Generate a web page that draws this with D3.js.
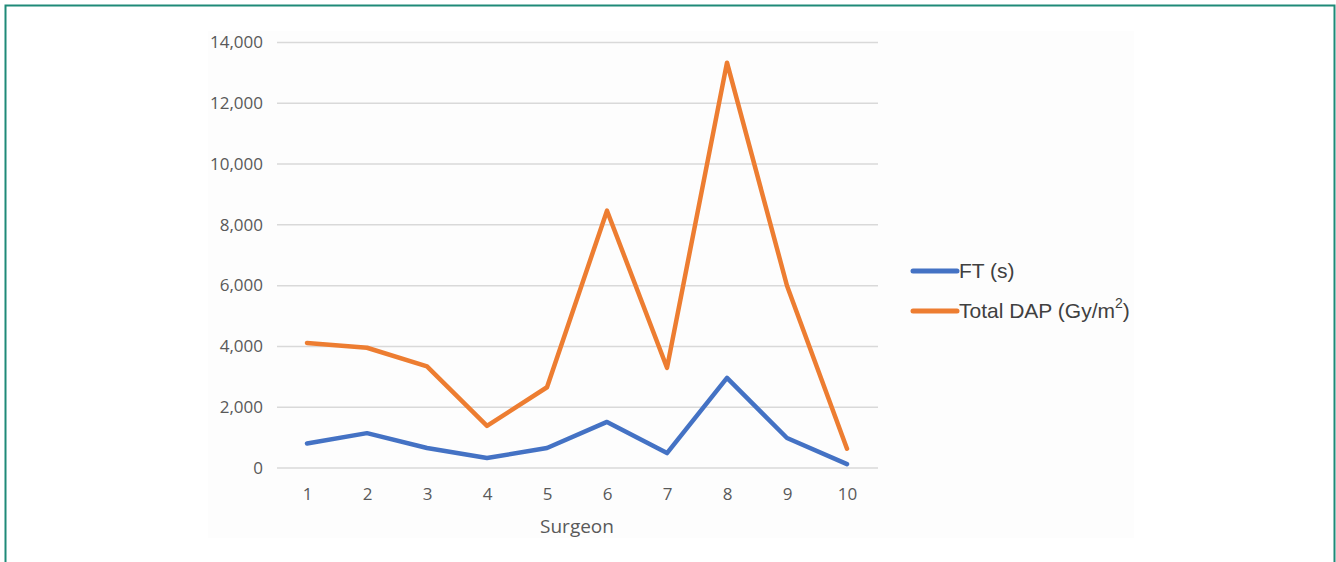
<!DOCTYPE html>
<html>
<head>
<meta charset="utf-8">
<script src="https://cdn.jsdelivr.net/npm/d3@7"></script>
<style>
  html, body { margin: 0; padding: 0; background: #ffffff; }
  svg { display: block; }
</style>
</head>
<body>
<svg id="chart" width="1336" height="562"></svg>
<script>
const categories = ["1", "2", "3", "4", "5", "6", "7", "8", "9", "10"];
const ftValues = [790, 1130, 640, 310, 640, 1500, 475, 2950, 970, 110];
const dapValues = [4100, 3940, 3330, 1370, 2640, 8450, 3280, 13320, 5980, 620];
const yTicks = [0, 2000, 4000, 6000, 8000, 10000, 12000, 14000];
const seriesNames = ["FT (s)", "Total DAP (Gy/m"];
const xTitle = "Surgeon";

const svg = d3.select("#chart");
const W = 1336, H = 562;

svg.append("rect").attr("x", 0).attr("y", 0).attr("width", W).attr("height", H).attr("fill", "#ffffff");
// chart area background
svg.append("rect").attr("x", 208).attr("y", 31).attr("width", 926).attr("height", 507).attr("fill", "#fdfdfd");

// teal border (top, left, right)
svg.append("path")
  .attr("d", `M5.5,${H} L5.5,5.5 L1334.5,5.5 L1334.5,${H}`)
  .attr("fill", "none").attr("stroke", "#1f8a78").attr("stroke-width", 2);

const plot = { left: 277, right: 877, top: 42, bottom: 467.5 };

const x = d3.scalePoint().domain(categories).range([plot.left, plot.right]).padding(0.5);
const y = d3.scaleLinear().domain([0, 14000]).range([plot.bottom, plot.top]);

// gridlines + y labels
const yAxis = d3.axisLeft(y).tickValues(yTicks).tickSize(-(plot.right - plot.left + 1)).tickPadding(14)
  .tickFormat(d3.format(","));
const gy = svg.append("g").attr("transform", `translate(${plot.left},0)`).call(yAxis);
gy.select(".domain").remove();
gy.selectAll(".tick line").attr("stroke", "#d9d9d9").attr("stroke-width", 1.5);
gy.selectAll(".tick text")
  .attr("fill", "#595959").attr("font-family", "'Open Sans', sans-serif").attr("font-size", 17)
  .attr("dy", "0.34em");

// x axis labels
const xAxis = d3.axisBottom(x).tickSize(0).tickPadding(20);
const gx = svg.append("g").attr("transform", `translate(0,${plot.bottom})`).call(xAxis);
gx.select(".domain").remove();
gx.selectAll(".tick text")
  .attr("fill", "#595959").attr("font-family", "'Open Sans', sans-serif").attr("font-size", 17);

// x title
svg.append("text").attr("x", 577).attr("y", 533).attr("text-anchor", "middle")
  .attr("fill", "#595959").attr("font-family", "'Open Sans', sans-serif").attr("font-size", 19)
  .text(xTitle);

// lines
const line = d3.line().x((d, i) => x(categories[i])).y(d => y(d));
svg.append("path").datum(dapValues).attr("d", line)
  .attr("fill", "none").attr("stroke", "#ED7D31").attr("stroke-width", 4.5)
  .attr("stroke-linejoin", "round").attr("stroke-linecap", "round");
svg.append("path").datum(ftValues).attr("d", line)
  .attr("fill", "none").attr("stroke", "#4472C4").attr("stroke-width", 4.5)
  .attr("stroke-linejoin", "round").attr("stroke-linecap", "round");

// legend
const legend = svg.append("g").attr("font-family", "'Liberation Sans', Arial, sans-serif").attr("font-size", 21).attr("fill", "#404040");
const legendItems = [
  { name: seriesNames[0], color: "#4472C4", y: 271 },
  { name: seriesNames[1], color: "#ED7D31", y: 311 }
];
legendItems.forEach((it, i) => {
  legend.append("line").attr("x1", 913).attr("x2", 957).attr("y1", it.y).attr("y2", it.y)
    .attr("stroke", it.color).attr("stroke-width", 5).attr("stroke-linecap", "round");
  const t = legend.append("text").attr("x", 959).attr("y", it.y).attr("dy", "0.35em");
  t.append("tspan").text(it.name);
  if (i === 1) {
    t.append("tspan").attr("font-size", 14).attr("dy", "-0.75em").text("2");
    t.append("tspan").attr("dy", "0.5em").text(")");
  }
});
</script>
</body>
</html>
